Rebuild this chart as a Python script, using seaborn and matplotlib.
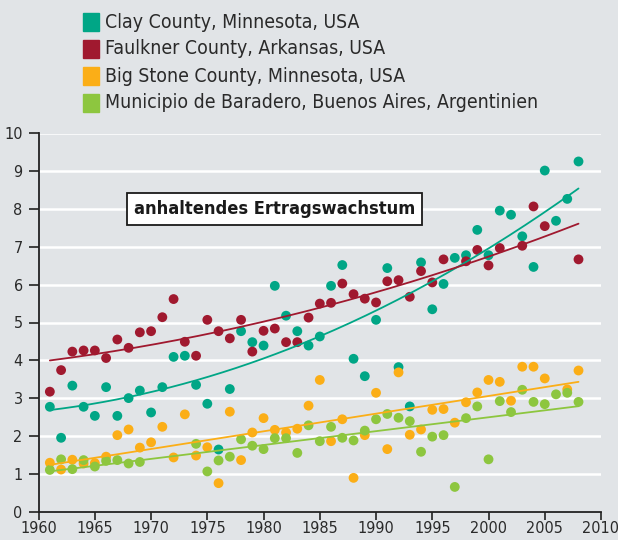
import numpy as np
import pandas as pd
import matplotlib
matplotlib.use("Agg")
import matplotlib.pyplot as plt
from matplotlib import font_manager as fm
import seaborn as sns

years = list(range(1961, 2009))

clay = [2.77, 1.95, 3.33, 2.77, 2.53, 3.29, 2.53, 3.00, 3.20, 2.62,
        3.29, 4.09, 4.12, 3.35, 2.85, 1.64, 3.24, 4.77, 4.48, 4.39,
        5.97, 5.18, 4.77, 4.39, 4.63, 5.97, 6.52, 4.04, 3.58, 5.07,
        6.44, 3.82, 2.78, 6.59, 5.35, 6.02, 6.71, 6.78, 7.45, 6.78,
        7.96, 7.85, 7.28, 6.47, 9.02, 7.69, 8.27, 9.26]

faulkner = [3.17, 3.74, 4.23, 4.26, 4.26, 4.06, 4.55, 4.33, 4.74, 4.77,
            5.14, 5.62, 4.49, 4.12, 5.07, 4.77, 4.58, 5.07, 4.23, 4.78,
            4.84, 4.48, 4.48, 5.13, 5.50, 5.52, 6.03, 5.75, 5.63, 5.53,
            6.09, 6.12, 5.68, 6.36, 6.06, 6.67, np.nan, 6.62, 6.92, 6.51,
            6.97, np.nan, 7.03, 8.07, 7.55, np.nan, np.nan, 6.67]

big_stone = [1.29, 1.11, 1.37, 1.27, 1.28, 1.45, 2.02, 2.17, 1.69, 1.83,
             2.24, 1.43, 2.57, 1.48, 1.70, 0.75, 2.64, 1.36, 2.09, 2.47,
             2.16, 2.09, 2.19, 2.80, 3.48, 1.86, 2.44, 0.89, 2.02, 3.14,
             1.65, 3.68, 2.03, 2.17, 2.69, 2.71, 2.35, 2.89, 3.15, 3.48,
             3.43, 2.93, 3.83, 3.83, 3.52, np.nan, 3.23, 3.73]

baradero = [1.10, 1.38, 1.12, 1.36, 1.19, 1.34, 1.36, 1.27, 1.31, np.nan,
            np.nan, np.nan, np.nan, 1.79, 1.06, 1.35, 1.45, 1.91, 1.74, 1.65,
            1.94, 1.94, 1.55, 2.28, 1.86, 2.24, 1.95, 1.88, 2.14, 2.44,
            2.58, 2.48, 2.39, 1.58, 1.98, 2.02, 0.65, 2.47, 2.78, 1.38,
            2.92, 2.63, 3.22, 2.90, 2.84, 3.10, 3.14, 2.90]

labels = ["Clay County, Minnesota, USA",
          "Faulkner County, Arkansas, USA",
          "Big Stone County, Minnesota, USA",
          "Municipio de Baradero, Buenos Aires, Argentinien"]
colors = ["#00A686", "#A0192F", "#FBAE17", "#8DC63F"]
fit_degree = [2, 2, 1, 1]

x_ticks = list(range(1960, 2011, 5))
y_ticks = list(range(0, 11))

annotation = "anhaltendes Ertragswachstum"

bg = "#E1E4E7"
sns.set_theme(style="white")

# pick a narrow sans face if one is available
available = {(f.name, f.stretch) for f in fm.fontManager.ttflist}
names = {n for n, _ in available}
stretch = "normal"
if "Liberation Sans Narrow" in names:
    family = "Liberation Sans Narrow"
    scale = 1.0
elif any(n == "DejaVu Sans" and s in ("condensed", "semi-condensed")
         for n, s in available):
    family = "DejaVu Sans"
    stretch = "condensed"
    scale = 0.93
else:
    family = "Roboto"
    scale = 0.82
plt.rcParams["font.family"] = [family, "DejaVu Sans"]
plt.rcParams["font.stretch"] = stretch

fig = plt.figure(figsize=(6.18, 5.40), dpi=100, facecolor=bg)
ax = fig.add_axes([38.6 / 618, 1 - 511.5 / 540, (601 - 38.6) / 618, 378 / 540])
ax.set_facecolor(bg)

df = pd.DataFrame({"Jahr": years, labels[0]: clay, labels[1]: faulkner,
                   labels[2]: big_stone, labels[3]: baradero})
long = df.melt(id_vars="Jahr", var_name="Region", value_name="Ertrag").dropna()

sns.scatterplot(data=long, x="Jahr", y="Ertrag", hue="Region",
                hue_order=labels, palette=colors, s=50, linewidth=0,
                ax=ax, legend=False, zorder=3)

# trend curves fitted to each series
for lab, col, deg in zip(labels, colors, fit_degree):
    sub = long[long["Region"] == lab]
    coef = np.polyfit(sub["Jahr"], sub["Ertrag"], deg)
    xs = np.linspace(1961, 2008, 200)
    sns.lineplot(x=xs, y=np.polyval(coef, xs), color=col, lw=1.3,
                 ax=ax, zorder=4)

ax.set_xlim(1960, 2010)
ax.set_ylim(0, 10)
ax.set_xticks(x_ticks)
ax.set_yticks(y_ticks)
ax.set_xlabel("")
ax.set_ylabel("")
ax.yaxis.grid(True, color="white", lw=1.8)
ax.set_axisbelow(True)
for s in ["top", "right"]:
    ax.spines[s].set_visible(False)
for s in ["left", "bottom"]:
    ax.spines[s].set_color("#222222")
    ax.spines[s].set_linewidth(1.3)
ax.tick_params(axis="both", which="major", direction="out", length=6,
               width=1.2, color="#222222", labelsize=12.5 * scale,
               labelcolor="#2a2a2a", pad=1, left=True, bottom=True)
ax.tick_params(axis="y", length=7.5, pad=4)

ax.text(1981, 8.0, annotation, ha="center", va="center",
        fontsize=14 * scale, fontweight="bold", color="#1a1a1a", zorder=6,
        bbox=dict(boxstyle="square,pad=0.38", fc="white", ec="#1a1a1a",
                  lw=1.3))

# legend rows at the top
for i, (lab, col) in enumerate(zip(labels, colors)):
    yc = 1 - (22 + i * 27) / 540
    fig.patches.append(plt.Rectangle((83 / 618, yc - 9 / 540), 16 / 618,
                                     18 / 540, transform=fig.transFigure,
                                     color=col))
    fig.text(105 / 618, yc, lab, ha="left", va="center",
             fontsize=15 * scale, color="#2a2a2a")

fig.savefig("out.png", dpi=100, facecolor=bg)
